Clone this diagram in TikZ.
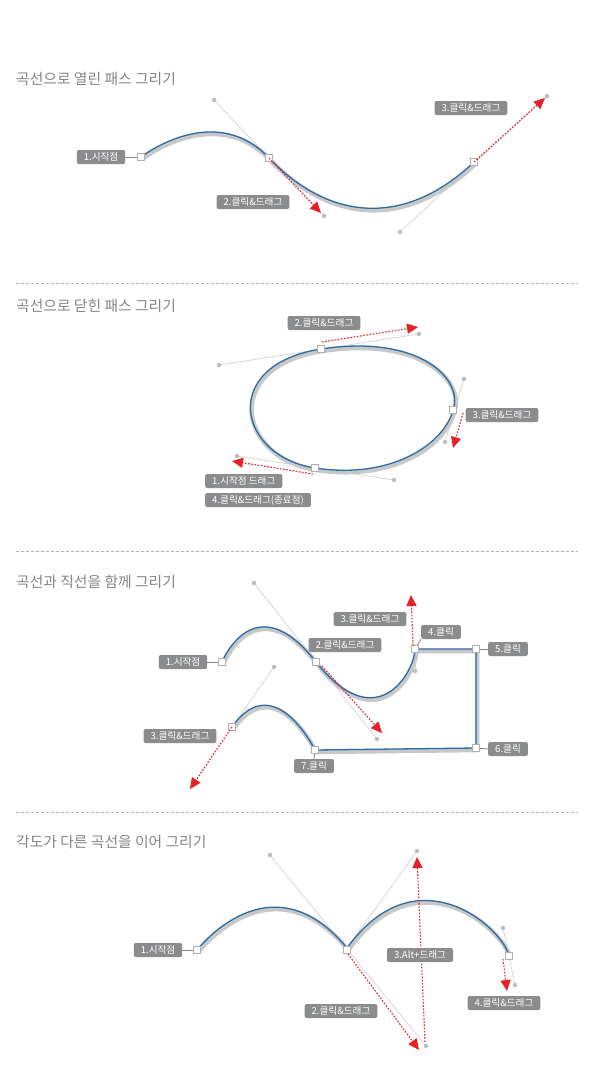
\documentclass[tikz,border=0pt]{standalone}
\usepackage{fontspec}
\setmainfont{Noto Sans CJK KR}
\usetikzlibrary{arrows.meta}
\definecolor{lblgray}{HTML}{8B8C8E}
\definecolor{ttlgray}{HTML}{858585}
\definecolor{curveblue}{HTML}{2C6CA6}
\definecolor{shadowgray}{HTML}{C8C8C8}
\definecolor{handlegray}{HTML}{D4D4D4}
\definecolor{dotgray}{HTML}{BDBDBD}
\definecolor{sqgray}{HTML}{B0B0B0}
\definecolor{arrred}{HTML}{E8202A}
\definecolor{sepgray}{HTML}{B3B3B3}
\begin{document}
\begin{tikzpicture}[x=1pt,y=-1pt,
  ttl/.style={anchor=west, text=ttlgray, font=\fontsize{14.8}{16}\selectfont, inner sep=0pt},
  lbl/.style={fill=lblgray, text=white, rounded corners=2pt, font=\fontsize{9.6}{11}\selectfont, minimum height=14pt, inner xsep=7pt, inner ysep=0pt},
  asq/.style={draw=sqgray, fill=white, minimum size=7.5pt, inner sep=0pt, line width=0.6pt},
  hdot/.style={circle, fill=dotgray, minimum size=4.5pt, inner sep=0pt},
  hline/.style={draw=handlegray, line width=0.7pt},
  conn/.style={draw=lblgray, line width=0.9pt},
  shadowline/.style={draw=shadowgray, line width=4.5pt, line cap=round, line join=round, transform canvas={shift={(1.2,2)}}},
  blueline/.style={draw=curveblue, line width=1.3pt, line join=round},
  redarr/.style={draw=arrred, line width=1.1pt, dash pattern=on 1.6pt off 1.6pt, -{Triangle[length=11pt,width=10pt]}},
  sepline/.style={draw=sepgray, line width=0.7pt, dash pattern=on 3pt off 2pt}
]
\fill[white] (0,0) rectangle (595,1077);
\useasboundingbox (0,0) rectangle (595,1077);

% ================= Panel 1 =================
\node[ttl] (t1) at (16,79) {곡선으로 열린 패스 그리기};
\coordinate (p1s) at (141,157);
\coordinate (p1a2) at (269,158);
\coordinate (p1a3) at (474,162);
\coordinate (p1d1) at (214,100);
\coordinate (p1d2) at (324,216);
\coordinate (p1d3) at (400,232);
\coordinate (p1d4) at (547,96);
\coordinate (p1t2) at (321,213);
\coordinate (p1t3) at (545,98);
\draw[hline] (p1d1) -- (p1d2);
\draw[hline] (p1d3) -- (p1d4);
\draw[shadowline] (p1s) .. controls (p1s) and (p1d1) .. (p1a2) .. controls (p1d2) and (p1d3) .. (p1a3);
\draw[blueline] (p1s) .. controls (p1s) and (p1d1) .. (p1a2) .. controls (p1d2) and (p1d3) .. (p1a3);
\node[lbl] (p1l1) at (101,157) {1.시작점};
\draw[conn] (p1l1.east) -- (p1s);
\node[asq] (p1q1) at (p1s) {};
\node[asq] (p1q2) at (p1a2) {};
\node[asq] (p1q3) at (p1a3) {};
\draw[redarr] (p1a2) -- (p1t2);
\draw[redarr] (p1a3) -- (p1t3);
\node[hdot] (p1h1) at (p1d1) {};
\node[hdot] (p1h2) at (p1d2) {};
\node[hdot] (p1h3) at (p1d3) {};
\node[hdot] (p1h4) at (p1d4) {};
\node[lbl] (p1l2) at (253,202) {2.클릭\&드래그};
\node[lbl] (p1l3) at (471,108) {3.클릭\&드래그};

\draw[sepline] (16,283) -- (578,283);

% ================= Panel 2 =================
\node[ttl] (t2) at (16,306) {곡선으로 닫힌 패스 그리기};
\coordinate (p2a1) at (315,468);
\coordinate (p2a2) at (321,349);
\coordinate (p2a3) at (453,410);
\coordinate (p2d1) at (237,456);
\coordinate (p2d2) at (219,365);
\coordinate (p2d3) at (419,334);
\coordinate (p2d4) at (464,379);
\coordinate (p2d5) at (445,442);
\coordinate (p2d6) at (394,480);
\draw[hline] (p2d1) -- (p2d6);
\draw[hline] (p2d2) -- (p2d3);
\draw[hline] (p2d4) -- (p2d5);
\draw[shadowline] (p2a1) .. controls (p2d1) and (p2d2) .. (p2a2) .. controls (p2d3) and (p2d4) .. (p2a3) .. controls (p2d5) and (p2d6) .. (p2a1);
\draw[blueline] (p2a1) .. controls (p2d1) and (p2d2) .. (p2a2) .. controls (p2d3) and (p2d4) .. (p2a3) .. controls (p2d5) and (p2d6) .. (p2a1);
\node[asq] (p2q1) at (p2a1) {};
\node[asq] (p2q2) at (p2a2) {};
\node[asq] (p2q3) at (p2a3) {};
\node[hdot] (p2h1) at (p2d1) {};
\node[hdot] (p2h2) at (p2d2) {};
\node[hdot] (p2h3) at (p2d3) {};
\node[hdot] (p2h4) at (p2d4) {};
\node[hdot] (p2h5) at (p2d5) {};
\node[hdot] (p2h6) at (p2d6) {};
\coordinate (p2r1s) at (322,342);
\coordinate (p2r1e) at (418,327);
\coordinate (p2r2s) at (463,413);
\coordinate (p2r2e) at (453,448);
\coordinate (p2r3s) at (313,474);
\coordinate (p2r3e) at (232,461);
\draw[redarr] (p2r1s) -- (p2r1e);
\draw[redarr] (p2r2s) -- (p2r2e);
\draw[redarr] (p2r3s) -- (p2r3e);
\node[lbl] (p2l2) at (324,323) {2.클릭\&드래그};
\node[lbl] (p2l3) at (502,415) {3.클릭\&드래그};
\node[lbl, anchor=west] (p2l1) at (205,481) {1.시작점 드래그};
\node[lbl, anchor=west] (p2l4) at (205,500) {4.클릭\&드래그(종료점)};

\draw[sepline] (16,551) -- (578,551);

% ================= Panel 3 =================
\node[ttl] (t3) at (16,582) {곡선과 직선을 함께 그리기};
\coordinate (p3a1) at (222,662);
\coordinate (p3a2) at (316,662);
\coordinate (p3a4) at (415,649);
\coordinate (p3a5) at (476,649);
\coordinate (p3a6) at (476,748);
\coordinate (p3a7) at (315,750);
\coordinate (p3a8) at (232,727);
\coordinate (p3d1) at (254,583);
\coordinate (p3d2) at (377,739);
\coordinate (p3d3) at (415,671);
\coordinate (p3d4) at (274,667);
\draw[hline] (p3d1) -- (p3d2);
\draw[hline] (p3a4) -- (p3d3);
\draw[hline] (p3d4) -- (p3a8);
\draw[shadowline] (p3a1) .. controls (p3a1) and (p3d1) .. (p3a2) .. controls (p3d2) and (p3d3) .. (p3a4) -- (p3a5) -- (p3a6) -- (p3a7) .. controls (p3a7) and (p3d4) .. (p3a8);
\draw[blueline] (p3a1) .. controls (p3a1) and (p3d1) .. (p3a2) .. controls (p3d2) and (p3d3) .. (p3a4) -- (p3a5) -- (p3a6) -- (p3a7) .. controls (p3a7) and (p3d4) .. (p3a8);
\node[lbl] (p3l1) at (183,662) {1.시작점};
\node[lbl] (p3l4) at (441,632) {4.클릭};
\node[lbl] (p3l5) at (508,649) {5.클릭};
\node[lbl] (p3l6) at (508,749) {6.클릭};
\node[lbl] (p3l7) at (314,766) {7.클릭};
\draw[conn] (p3l1.east) -- (p3a1);
\draw[conn] (p3l4.south west) -- (p3a4);
\draw[conn] (p3l5.west) -- (p3a5);
\draw[conn] (p3l6.west) -- (p3a6);
\draw[conn] (p3l7.north) -- (p3a7);
\node[asq] (p3q1) at (p3a1) {};
\node[asq] (p3q2) at (p3a2) {};
\node[asq] (p3q4) at (p3a4) {};
\node[asq] (p3q5) at (p3a5) {};
\node[asq] (p3q6) at (p3a6) {};
\node[asq] (p3q7) at (p3a7) {};
\node[asq] (p3q8) at (p3a8) {};
\node[hdot] (p3h1) at (p3d1) {};
\node[hdot] (p3h2) at (p3d2) {};
\node[hdot] (p3h3) at (p3d3) {};
\node[hdot] (p3h4) at (p3d4) {};
\coordinate (p3r1s) at (322,666);
\coordinate (p3r1e) at (382,733);
\coordinate (p3r2s) at (413,645);
\coordinate (p3r2e) at (411,595);
\coordinate (p3r3e) at (190,789);
\draw[redarr] (p3r1s) -- (p3r1e);
\draw[redarr] (p3r2s) -- (p3r2e);
\draw[redarr] (p3a8) -- (p3r3e);
\node[lbl] (p3l2) at (345,645) {2.클릭\&드래그};
\node[lbl] (p3l3) at (370,619) {3.클릭\&드래그};
\node[lbl] (p3l8) at (180,736) {3.클릭\&드래그};

\draw[sepline] (16,812) -- (578,812);

% ================= Panel 4 =================
\node[ttl] (t4) at (16,842) {각도가 다른 곡선을 이어 그리기};
\coordinate (p4a1) at (197,950);
\coordinate (p4a2) at (347,948);
\coordinate (p4a3) at (509,956);
\coordinate (p4d1) at (270,855);
\coordinate (p4d2) at (426,1046);
\coordinate (p4d3) at (417,851);
\coordinate (p4d4) at (503,928);
\coordinate (p4d5) at (515,985);
\draw[hline] (p4d1) -- (p4d2);
\draw[hline] (p4a2) -- (p4d3);
\draw[hline] (p4d4) -- (p4d5);
\draw[shadowline] (p4a1) .. controls (p4a1) and (p4d1) .. (p4a2) .. controls (p4d3) and (p4d4) .. (p4a3);
\draw[blueline] (p4a1) .. controls (p4a1) and (p4d1) .. (p4a2) .. controls (p4d3) and (p4d4) .. (p4a3);
\node[lbl] (p4l1) at (158,950) {1.시작점};
\draw[conn] (p4l1.east) -- (p4a1);
\node[asq] (p4q1) at (p4a1) {};
\node[asq] (p4q2) at (347,950) {};
\node[asq] (p4q3) at (p4a3) {};
\node[hdot] (p4h1) at (p4d1) {};
\node[hdot] (p4h2) at (p4d2) {};
\node[hdot] (p4h3) at (p4d3) {};
\node[hdot] (p4h4) at (p4d4) {};
\node[hdot] (p4h5) at (p4d5) {};
\coordinate (p4r1s) at (348,954);
\coordinate (p4r1e) at (419,1050);
\coordinate (p4r2s) at (425,1042);
\coordinate (p4r2e) at (417,857);
\coordinate (p4r3s) at (503,959);
\coordinate (p4r3e) at (507,991);
\draw[redarr] (p4r1s) -- (p4r1e);
\draw[redarr] (p4r2s) -- (p4r2e);
\draw[redarr] (p4r3s) -- (p4r3e);
\node[lbl] (p4l2) at (341,1011) {2.클릭\&드래그};
\node[lbl] (p4l3) at (420,955) {3.Alt+드래그};
\node[lbl] (p4l4) at (504,1003) {4.클릭\&드래그};
\end{tikzpicture}
\end{document}
